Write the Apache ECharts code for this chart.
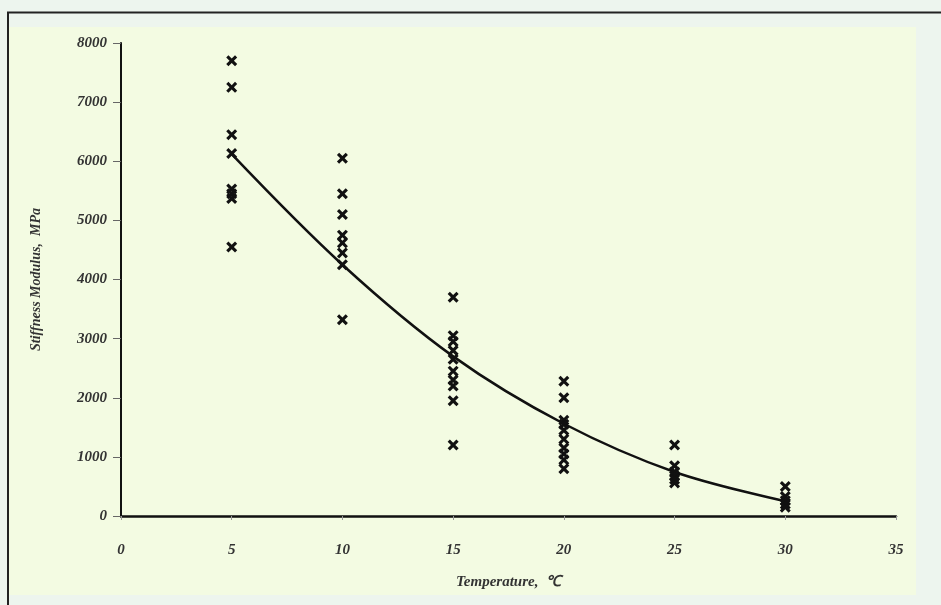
<!DOCTYPE html>
<html>
<head>
<meta charset="utf-8">
<script src="https://cdn.jsdelivr.net/npm/echarts@6/dist/echarts.min.js"></script>
<style>
html,body{margin:0;padding:0;background:#edf5ee;}
#c{width:941px;height:605px;}
</style>
</head>
<body>
<div id="c"></div>
<script>
const xTicks = [0, 5, 10, 15, 20, 25, 30, 35];
const yTicks = [0, 1000, 2000, 3000, 4000, 5000, 6000, 7000, 8000];

const temps = [5, 10, 15, 20, 25, 30];
const measured5 = [7700, 7250, 6450, 6130, 5530, 5450, 5370, 4550];
const measured10 = [6050, 5450, 5100, 4750, 4620, 4450, 4250, 3320];
const measured15 = [3700, 3050, 2950, 2800, 2650, 2450, 2300, 2200, 1950, 1200];
const measured20 = [2280, 2000, 1620, 1550, 1450, 1300, 1150, 1050, 950, 800];
const measured25 = [1200, 850, 750, 680, 620, 560];
const measured30 = [500, 330, 260, 200, 150];
const fitCurve = [6120, 4250, 2700, 1560, 745, 250];

const groups = [measured5, measured10, measured15, measured20, measured25, measured30];
const scatterData = [];
groups.forEach((g, i) => g.forEach(v => scatterData.push([temps[i], v])));
const lineData = temps.map((t, i) => [t, fitCurve[i]]);

const font = 'Liberation Serif';
const crossPath = 'path://M0,2L2,0L5,3L8,0L10,2L7,5L10,8L8,10L5,7L2,10L0,8L3,5Z';

const chart = echarts.init(document.getElementById('c'));
chart.setOption({
  backgroundColor: '#edf5ee',
  animation: false,
  graphic: [
    { type: 'rect', z: -10, shape: { x: 9, y: 27, width: 907, height: 568 }, style: { fill: '#f3fbe2' } },
    { type: 'line', z: -5, shape: { x1: 7, y1: 12.5, x2: 941, y2: 12.5 }, style: { stroke: '#222', lineWidth: 2 } },
    { type: 'line', z: -5, shape: { x1: 8, y1: 12, x2: 8, y2: 605 }, style: { stroke: '#222', lineWidth: 2 } }
  ],
  grid: { left: 121, right: 45, top: 43, bottom: 89, containLabel: false },
  xAxis: {
    type: 'value', min: 0, max: 35, interval: 5,
    name: 'Temperature,  \u2103', nameLocation: 'middle', nameGap: 59,
    nameTextStyle: { fontFamily: font, fontStyle: 'italic', fontWeight: 'bold', fontSize: 15, color: '#333' },
    axisLine: { show: true, onZero: false, lineStyle: { color: '#111', width: 2.5 } },
    axisTick: { show: true, inside: false, length: 4, lineStyle: { color: '#999', width: 1 } },
    axisLabel: { fontFamily: font, fontStyle: 'italic', fontWeight: 'bold', fontSize: 15, color: '#333', margin: 27,
      formatter: v => xTicks.includes(v) ? String(v) : '' },
    splitLine: { show: false }
  },
  yAxis: {
    type: 'value', min: 0, max: 8000, interval: 1000,
    name: 'Stiffness Modulus,  MPa', nameLocation: 'middle', nameGap: 78, nameRotate: 90,
    nameTextStyle: { fontFamily: font, fontStyle: 'italic', fontWeight: 'bold', fontSize: 14, color: '#333' },
    axisLine: { show: true, lineStyle: { color: '#111', width: 2 } },
    axisTick: { show: true, inside: false, length: 8, lineStyle: { color: '#666', width: 1 } },
    axisLabel: { fontFamily: font, fontStyle: 'italic', fontWeight: 'bold', fontSize: 15, color: '#333', margin: 14,
      formatter: v => yTicks.includes(v) ? String(v) : '' },
    splitLine: { show: false }
  },
  series: [
    {
      type: 'line', data: lineData, smooth: 0.35, showSymbol: false, symbol: 'none',
      lineStyle: { color: '#111', width: 2.5 }, z: 2
    },
    {
      type: 'scatter', data: scatterData, symbol: crossPath, symbolSize: 11,
      itemStyle: { color: '#111', opacity: 1 }, z: 3
    }
  ]
});
</script>
</body>
</html>
